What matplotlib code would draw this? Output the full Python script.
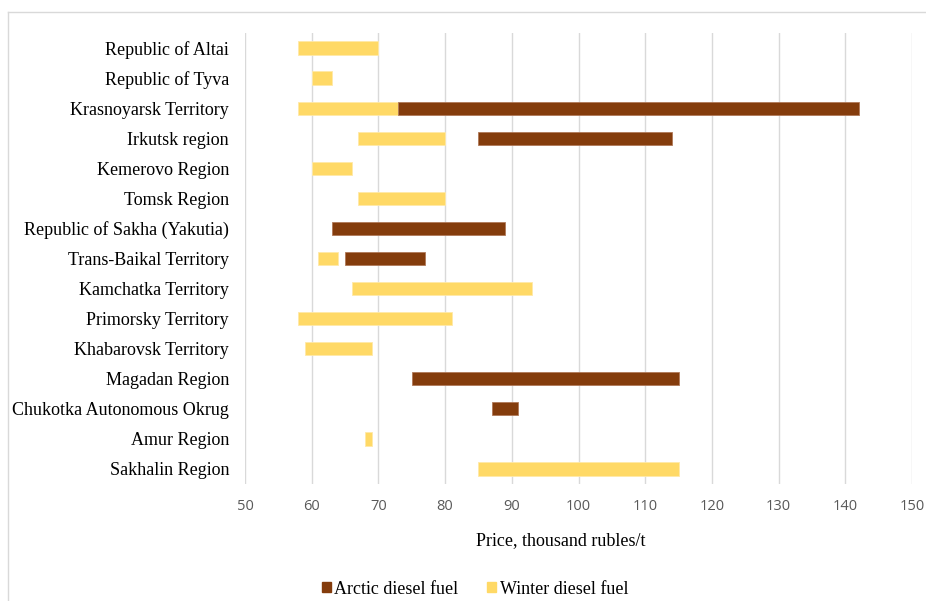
import matplotlib
matplotlib.use("Agg")
import matplotlib.pyplot as plt
from matplotlib.patches import Patch
from matplotlib.lines import Line2D

regions = ["Republic of Altai", "Republic of Tyva", "Krasnoyarsk Territory", "Irkutsk region",
           "Kemerovo Region", "Tomsk Region", "Republic of Sakha (Yakutia)", "Trans-Baikal Territory",
           "Kamchatka Territory", "Primorsky Territory", "Khabarovsk Territory", "Magadan Region",
           "Chukotka Autonomous Okrug", "Amur Region", "Sakhalin Region"]

# Winter diesel fuel price range (min, max), None if absent
winter_min = [58, 60, 58, 67, 60, 67, None, 61, 66, 58, 59, None, None, 68, 85]
winter_max = [70, 63, 73, 80, 66, 80, None, 64, 93, 81, 69, None, None, 69, 115]
# Arctic diesel fuel price range
arctic_min = [None, None, 73, 85, None, None, 63, 65, None, None, None, 75, 87, None, None]
arctic_max = [None, None, 142, 114, None, None, 89, 77, None, None, None, 115, 91, None, None]

x_ticks = [50, 60, 70, 80, 90, 100, 110, 120, 130, 140, 150]

winter_color = "#FFD966"
arctic_color = "#843C0C"

fig = plt.figure(figsize=(9.26, 6.01), dpi=100)
W, H = 926, 601
ax = fig.add_axes([245 / W, 1 - 484 / H, 667 / W, 451 / H])

bar_h = 0.44
for i in range(len(regions)):
    if winter_min[i] is not None:
        ax.barh(i, winter_max[i] - winter_min[i], left=winter_min[i], height=bar_h,
                color=winter_color, edgecolor="#FFE9A8", linewidth=0.6, zorder=3)
    if arctic_min[i] is not None:
        ax.barh(i, arctic_max[i] - arctic_min[i], left=arctic_min[i], height=bar_h,
                color=arctic_color, edgecolor="#B07858", linewidth=0.6, zorder=3)

ax.set_xlim(50, 150)
ax.set_ylim(len(regions) - 0.5, -0.5)
ax.set_xticks(x_ticks)
ax.set_xticklabels([str(t) for t in x_ticks], fontfamily="Open Sans", fontsize=10.5, color="#595959")
ax.set_yticks(range(len(regions)))
ax.set_yticklabels(regions, fontfamily="Liberation Serif", fontsize=13, color="#000000")
ax.tick_params(axis="both", length=0)
ax.tick_params(axis="y", pad=11.5)
ax.tick_params(axis="x", pad=11)
ax.grid(axis="x", color="#D9D9D9", linewidth=1.0, zorder=0)
for s in ax.spines.values():
    s.set_visible(False)

fig.text(561 / W, 1 - 541 / H, "Price, thousand rubles/t", ha="center", va="center",
         fontfamily="Liberation Serif", fontsize=13, color="#000000")

handles = [Patch(facecolor=arctic_color, edgecolor=arctic_color),
           Patch(facecolor=winter_color, edgecolor=winter_color)]
fig.legend(handles, ["Arctic diesel fuel", "Winter diesel fuel"], loc="center",
           bbox_to_anchor=(475 / W, 1 - 589 / H), ncol=2, frameon=False,
           prop={"family": "Liberation Serif", "size": 13},
           handlelength=0.5, handleheight=0.5, handletextpad=0.2, columnspacing=1.6,
           borderpad=0.0)

# outer chart border (top and left visible)
fig.add_artist(Line2D([7.5 / W, 1], [1 - 11.5 / H, 1 - 11.5 / H], transform=fig.transFigure,
                      color="#D9D9D9", linewidth=1.0))
fig.add_artist(Line2D([7.5 / W, 7.5 / W], [0, 1 - 11.5 / H], transform=fig.transFigure,
                      color="#D9D9D9", linewidth=1.0))

fig.savefig("out.png", dpi=100)
